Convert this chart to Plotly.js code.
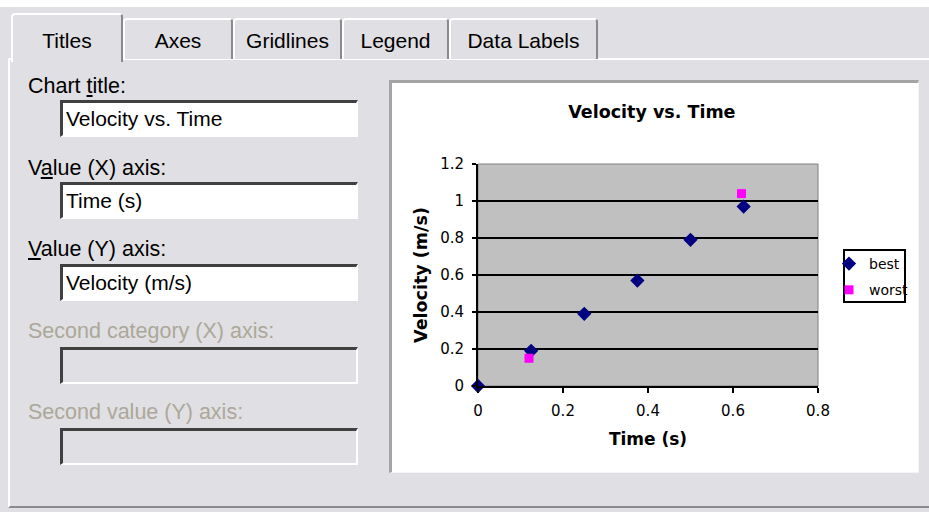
<!DOCTYPE html>
<html><head><meta charset="utf-8">
<script src="https://cdn.plot.ly/plotly-3.0.1.min.js"></script>
<style>
html,body{margin:0;padding:0}
body{width:929px;height:512px;overflow:hidden;background:#e0dfe3;font-family:"Liberation Sans",Arial,sans-serif;position:relative}
.a{position:absolute}
#topband{left:0;top:0;width:929px;height:7px;background:#fff}
#page{left:8px;top:58px;width:940px;height:450px;box-sizing:border-box;border-top:2px solid #fff;border-left:2px solid #fff;border-bottom:2px solid #8a8a8a;background:#e0dfe3}
.tab{position:absolute;top:18px;height:41px;box-sizing:border-box;border-top:2px solid #fff;border-left:2px solid #fff;border-right:2px solid #8a8a8a;border-radius:4px 4px 0 0;font-size:21px;color:#000;text-align:center;line-height:42px;background:#e0dfe3}
.tab.sel{top:13px;height:49px;z-index:3;line-height:52px;border-bottom:none}
.lbl{position:absolute;left:28px;font-size:21.5px;line-height:24px;color:#000;white-space:nowrap}
.lbl.dis{color:#aca899}
.box{position:absolute;left:60px;width:298px;height:37px;box-sizing:border-box;border-top:3px solid #404040;border-left:3px solid #404040;border-right:2px solid #fff;border-bottom:2px solid #fff;background:#fff;font-size:21px;line-height:32px;padding-left:3px;color:#000;white-space:nowrap}
.box.dis{background:#e0dfe3}
#panel{left:389px;top:80px;width:530px;height:393px;box-sizing:border-box;border-top:3px solid #a4a4a4;border-left:3px solid #a4a4a4;border-right:1px solid #f4f4f4;border-bottom:1px solid #f4f4f4;background:#fff}
#chart{position:absolute;left:392px;top:83px;width:526px;height:389px}
</style></head>
<body>
<div class="a" id="topband"></div>
<div class="a" id="page"></div>
<div class="tab sel" style="left:11px;width:112px">Titles</div>
<div class="tab" style="left:123px;width:110px">Axes</div>
<div class="tab" style="left:233px;width:109px">Gridlines</div>
<div class="tab" style="left:342px;width:107px">Legend</div>
<div class="tab" style="left:449px;width:149px">Data Labels</div>

<div class="lbl" style="top:74px">Chart <u>t</u>itle:</div>
<div class="box" style="top:100px">Velocity vs. Time</div>
<div class="lbl" style="top:156px">V<u>a</u>lue (X) axis:</div>
<div class="box" style="top:182px">Time (s)</div>
<div class="lbl" style="top:237px"><u>V</u>alue (Y) axis:</div>
<div class="box" style="top:264px">Velocity (m/s)</div>
<div class="lbl dis" style="top:319px">Second category (X) axis:</div>
<div class="box dis" style="top:347px"></div>
<div class="lbl dis" style="top:400px">Second value (Y) axis:</div>
<div class="box dis" style="top:428px"></div>

<div class="a" id="panel"></div>
<div id="chart"></div>

<script>
// Data
const timeBest = [0, 0.125, 0.25, 0.375, 0.5, 0.625];
const velBest  = [0, 0.19, 0.39, 0.57, 0.79, 0.97];
const timeWorst = [0.12, 0.62];
const velWorst  = [0.15, 1.04];
const seriesNames = ['best', 'worst'];
const xTickVals = [0, 0.2, 0.4, 0.6, 0.8];
const yTickVals = [0, 0.2, 0.4, 0.6, 0.8, 1, 1.2];
const chartTitle = 'Velocity vs. Time';
const xTitle = 'Time (s)';
const yTitle = 'Velocity (m/s)';

const traces = [
  {x: timeBest, y: velBest, name: seriesNames[0], type: 'scatter', mode: 'markers',
   legendgroup: 'a', cliponaxis: false,
   marker: {symbol: 'diamond', size: 11, color: '#000080'}},
  {x: timeWorst, y: velWorst, name: seriesNames[1], type: 'scatter', mode: 'markers',
   legendgroup: 'b', cliponaxis: false,
   marker: {symbol: 'square', size: 9, color: '#ff00ff'}}
];

const OX = 392, OY = 83;
const W = 526, H = 389, L = 86, R = 100, T = 81, B = 86;
const pw = W - L - R, ph = H - T - B;
function px2x(p){ return (p - (OX + L)) / pw; }
function px2y(p){ return ((OY + T + ph) - p) / ph; }

const layout = {
  width: W, height: H,
  margin: {l: L, r: R, t: T, b: B, pad: 0, autoexpand: false},
  paper_bgcolor: '#ffffff', plot_bgcolor: '#c0c0c0',
  font: {family: 'DejaVu Sans, sans-serif', color: '#000'},
  title: {text: '<b>' + chartTitle + '</b>', font: {family: 'DejaVu Sans, sans-serif', size: 17.5, color: '#000'},
          xref: 'container', x: 0.494, xanchor: 'center', yref: 'container', y: 1 - 29 / H, yanchor: 'middle'},
  xaxis: {range: [0, 0.8], tickvals: xTickVals, ticks: 'outside', ticklen: 5, tickwidth: 2, tickcolor: '#000',
          showline: true, linecolor: '#000', linewidth: 2, showgrid: false, zeroline: false,
          tickfont: {size: 15, family: 'DejaVu Sans, sans-serif'}, ticklabelstandoff: 5,
          title: {text: '<b>' + xTitle + '</b>', font: {size: 17}, standoff: 14}, automargin: false, fixedrange: true},
  yaxis: {range: [0, 1.2], tickvals: yTickVals, ticks: 'outside', ticklen: 4, tickwidth: 2, tickcolor: '#000',
          showline: true, linecolor: '#000', linewidth: 2, showgrid: true, gridcolor: '#000', gridwidth: 2, zeroline: false,
          tickfont: {size: 15, family: 'DejaVu Sans, sans-serif'}, ticklabelstandoff: 5,
          title: {text: '<b>' + yTitle + '</b>', font: {size: 17.5}, standoff: 8}, automargin: false, fixedrange: true},
  showlegend: true,
  legend: {xref: 'container', yref: 'container', x: (829 - OX) / W, xanchor: 'left', y: 1 - (248 - OY) / H, yanchor: 'top',
           bgcolor: 'rgba(0,0,0,0)', borderwidth: 0,
           font: {size: 14, family: 'DejaVu Sans, sans-serif'}, tracegroupgap: 5, itemclick: false, itemdoubleclick: false},
  shapes: [
    {type: 'rect', xref: 'paper', yref: 'paper', x0: 0, x1: 1, y0: 0, y1: 1, line: {color: '#808080', width: 1}, layer: 'below'},
    {type: 'rect', xref: 'paper', yref: 'paper', x0: px2x(844), x1: px2x(905), y0: px2y(302), y1: px2y(250),
     line: {color: '#000', width: 2}, fillcolor: 'rgba(0,0,0,0)'}
  ]
};
Plotly.newPlot('chart', traces, layout, {staticPlot: true, displayModeBar: false});
</script>
</body></html>
